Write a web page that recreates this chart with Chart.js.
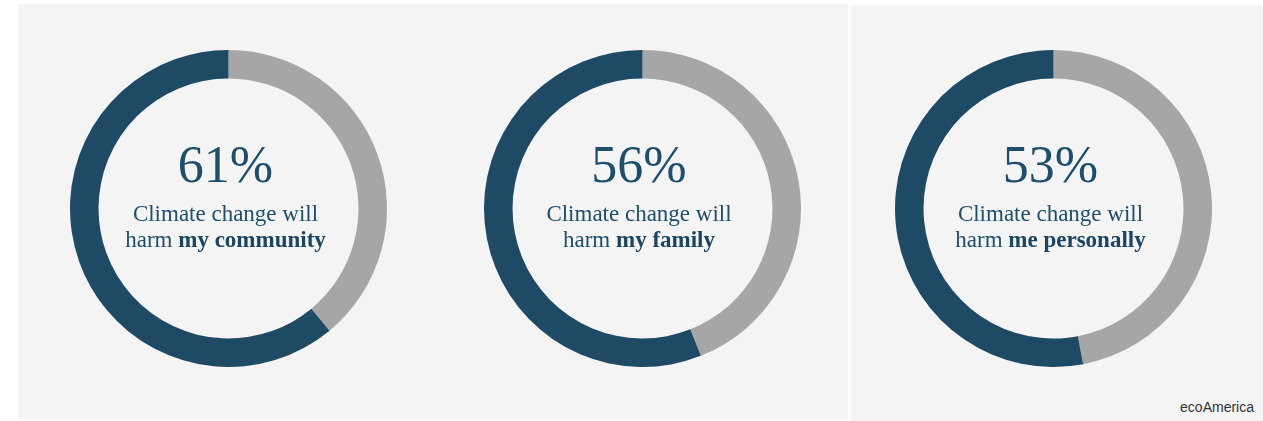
<!DOCTYPE html>
<html>
<head>
<meta charset="utf-8">
<script src="https://cdn.jsdelivr.net/npm/chart.js@4/dist/chart.umd.min.js"></script>
<style>
  html, body { margin: 0; padding: 0; background: #ffffff; }
  #page { position: relative; width: 1263px; height: 421px; overflow: hidden; background: #ffffff; }
  .panel { position: absolute; background: #f4f4f4; }
  .ring { position: absolute; }
  .label {
    position: absolute; width: 300px; text-align: center;
    font-family: "Liberation Serif", "DejaVu Serif", serif; color: #1f4e6c;
  }
  .pct { position: absolute; left: 0; width: 100%; font-size: 52px; line-height: 52px; }
  .line { position: absolute; left: 0; width: 100%; font-size: 23px; line-height: 23px; white-space: nowrap; }
  .line b { color: #1c4561; }
  #source {
    position: absolute; right: 9px; top: 399px;
    font-family: "Liberation Sans", Arial, sans-serif; font-size: 14px; color: #333333;
  }
</style>
</head>
<body>
<div id="page">
  <div class="panel" style="left:18px; top:4px; width:830px; height:415px;"></div>
  <div class="panel" style="left:851px; top:5px; width:412px; height:416px;"></div>
  <div id="source">ecoAmerica</div>
</div>
<script>
// Survey results: share who agree climate change will harm each group
const subjects = ['my community', 'my family', 'me personally'];
const agreeShares = [61, 56, 53];
const otherShares = [39, 44, 47];
const pctLabels = ['61%', '56%', '53%'];

const ringBlue = '#1f4a66';
const ringGray = '#a6a6a6';

// Ring centres on the page
const centresX = [228.5, 642, 1053.5];
const centreY = 208;
const radius = 158.5;

const page = document.getElementById('page');

subjects.forEach((subject, i) => {
  const box = document.createElement('div');
  box.className = 'ring';
  box.style.left = (centresX[i] - radius) + 'px';
  box.style.top = (centreY - radius) + 'px';
  box.style.width = (radius * 2) + 'px';
  box.style.height = (radius * 2) + 'px';
  const canvas = document.createElement('canvas');
  box.appendChild(canvas);
  page.appendChild(box);

  new Chart(canvas, {
    type: 'doughnut',
    data: {
      labels: ['Other', 'Agree'],
      datasets: [{
        data: [otherShares[i], agreeShares[i]],
        backgroundColor: [ringGray, ringBlue],
        borderWidth: 0,
        hoverOffset: 0
      }]
    },
    options: {
      responsive: true,
      maintainAspectRatio: false,
      animation: false,
      cutout: '82%',
      rotation: 0,
      layout: { padding: 0 },
      plugins: { legend: { display: false }, tooltip: { enabled: false } },
      events: []
    }
  });

  // Centre caption
  const label = document.createElement('div');
  label.className = 'label';
  label.style.left = (centresX[i] - 3 - 150) + 'px';
  label.style.top = '0px';
  const pct = document.createElement('div');
  pct.className = 'pct';
  pct.style.top = '139px';
  pct.textContent = pctLabels[i];
  const l1 = document.createElement('div');
  l1.className = 'line';
  l1.style.top = '202px';
  l1.textContent = 'Climate change will';
  const l2 = document.createElement('div');
  l2.className = 'line';
  l2.style.top = '228px';
  l2.innerHTML = 'harm <b>' + subject + '</b>';
  label.appendChild(pct);
  label.appendChild(l1);
  label.appendChild(l2);
  page.appendChild(label);
});
</script>
</body>
</html>
